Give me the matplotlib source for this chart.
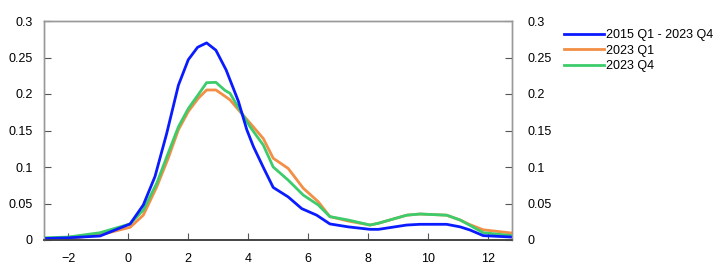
import matplotlib
matplotlib.use("Agg")
import matplotlib.pyplot as plt

plt.rcParams['font.family'] = ['Liberation Sans', 'DejaVu Sans']

x_blue = [-2.8, -2.0, -0.93, 0.07, 0.51, 0.9, 1.29, 1.68, 2.01, 2.32, 2.62, 2.93, 3.27, 3.68,
          3.96, 4.18, 4.51, 4.84, 5.34, 5.79, 6.29, 6.73, 7.34, 8.07, 8.35, 9.29, 9.73, 10.62,
          11.07, 11.4, 11.84, 12.8]
y_blue = [0.002, 0.003, 0.0055, 0.022, 0.048, 0.087, 0.146, 0.212, 0.247, 0.264, 0.270, 0.260,
          0.233, 0.19, 0.151, 0.128, 0.0995, 0.072, 0.059, 0.043, 0.034, 0.022, 0.018, 0.0146,
          0.0146, 0.0205, 0.0215, 0.0215, 0.018, 0.0137, 0.006, 0.004]

x_q = [-2.8, -2.0, -0.93, 0.07, 0.51, 0.96, 1.34, 1.68, 2.01, 2.34, 2.62, 2.93, 3.23, 3.4, 3.73,
       4.07, 4.51, 4.84, 5.34, 5.84, 6.34, 6.73, 7.34, 8.07, 8.35, 9.29, 9.73, 10.62, 11.07,
       11.4, 11.84, 12.8]
y_q1 = [0.001, 0.002, 0.007, 0.0174, 0.034, 0.073, 0.112, 0.151, 0.176, 0.194, 0.2055, 0.2055,
        0.197, 0.192, 0.176, 0.160, 0.139, 0.112, 0.098, 0.071, 0.0525, 0.032, 0.026, 0.0205,
        0.023, 0.034, 0.0356, 0.034, 0.0274, 0.021, 0.014, 0.0095]
y_q4 = [0.003, 0.004, 0.010, 0.022, 0.041, 0.078, 0.119, 0.155, 0.180, 0.199, 0.2155, 0.216,
        0.205, 0.201, 0.178, 0.155, 0.130, 0.100, 0.082, 0.0616, 0.048, 0.032, 0.0274, 0.0205,
        0.023, 0.034, 0.0356, 0.034, 0.0274, 0.020, 0.010, 0.006]

labels = ['2015 Q1 - 2023 Q4', '2023 Q1', '2023 Q4']
colors = ['#0a1bff', '#f28e45', '#3dcc6b']
xticks = [-2, 0, 2, 4, 6, 8, 10, 12]
xtick_labels = ['\u22122', '0', '2', '4', '6', '8', '10', '12']
yticks = [0, 0.05, 0.1, 0.15, 0.2, 0.25, 0.3]
ytick_labels = ['0', '0.05', '0.1', '0.15', '0.2', '0.25', '0.3']

fig = plt.figure(figsize=(7.22, 2.78), dpi=100)
ax = fig.add_axes([44/722, 38/278, 468/722, 219/278])

ax.plot(x_blue, y_blue, color=colors[0], lw=2.0, label=labels[0], zorder=3)
ax.plot(x_q, y_q1, color=colors[1], lw=2.0, label=labels[1], zorder=2)
ax.plot(x_q, y_q4, color=colors[2], lw=2.0, label=labels[2], zorder=2.5)

ax.set_xlim(-2.8, 12.8)
ax.set_ylim(0, 0.3)
ax.set_xticks(xticks)
ax.set_xticklabels(xtick_labels)
ax.set_yticks(yticks)
ax.set_yticklabels(ytick_labels)
ax.tick_params(direction='in', length=5, width=0.8, colors='#555555', labelcolor='black', labelsize=9)
ax.tick_params(axis='y', left=True, right=False, pad=8)
ax.tick_params(axis='x', pad=9)

ax2 = ax.twinx()
ax2.set_ylim(0, 0.3)
ax2.set_yticks(yticks)
ax2.set_yticklabels(ytick_labels)
ax2.tick_params(axis='y', direction='in', length=5, width=0.8, colors='#555555', labelcolor='black',
                labelsize=9, pad=11)

for a in (ax, ax2):
    for s in ['left', 'right', 'top']:
        a.spines[s].set_color('#999999')
        a.spines[s].set_linewidth(1.0)
    a.spines['bottom'].set_color('#444444')
    a.spines['bottom'].set_linewidth(1.2)

h, l = ax.get_legend_handles_labels()
fig.legend(h, l, loc='upper left', bbox_to_anchor=(564/722, 1 - 29/278), frameon=False,
           fontsize=9, handlelength=3.2, handletextpad=0.15, labelspacing=0.3,
           borderaxespad=0, borderpad=0)

fig.savefig('out.png', dpi=100)
